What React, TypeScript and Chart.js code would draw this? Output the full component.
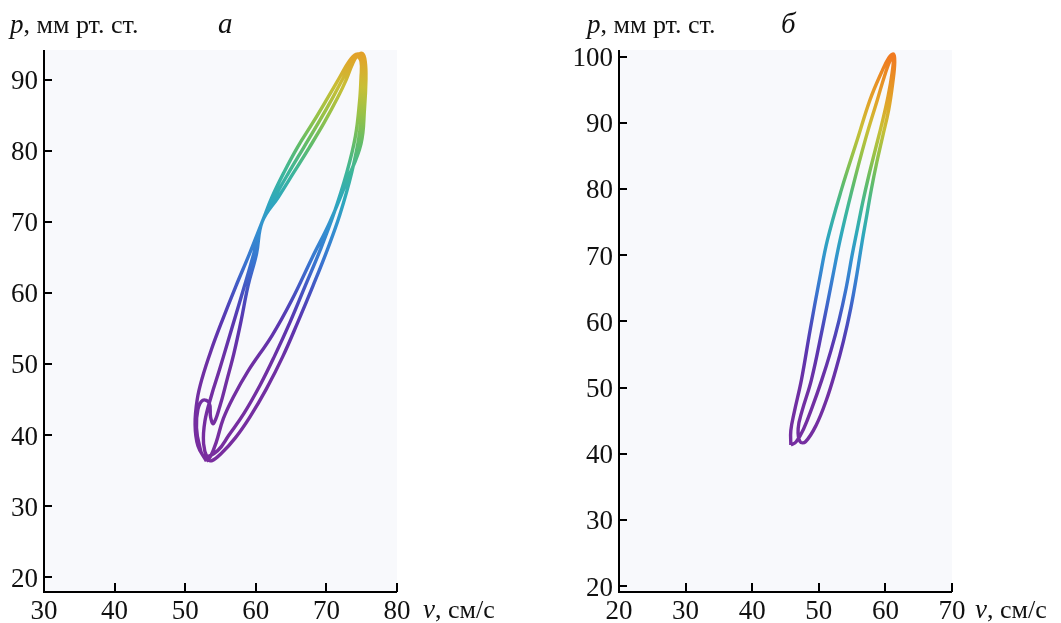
import { useEffect, useRef } from "react";
import { Chart, registerables } from "chart.js";

Chart.register(...registerables);

type Pt = [number, number];

// Panel а: three pressure–velocity loops (v, p)
const loopA1: Pt[] = [
  [53.0, 36.3], [51.8, 38.5], [51.4, 41.5], [51.7, 45], [52.4, 48], [53.7, 52], [55.2, 56], [57.2, 61],
  [59.1, 65.5], [60.9, 70], [62.3, 73.5], [64.0, 77], [65.9, 80.5], [68.1, 84], [70.2, 87.5], [71.9, 90.4],
  [73.2, 92.6], [74.2, 93.6], [75.0, 93.4], [75.3, 91.6], [75.2, 88], [74.7, 82.5], [73.6, 77], [71.9, 71],
  [70.1, 66], [68.1, 61], [66.0, 56], [63.8, 51], [61.5, 46.5], [59.2, 42.6], [57.1, 39.6], [55.1, 37.4],
  [53.8, 36.4],
];
const loopA2: Pt[] = [
  [53.2, 36.6], [52.6, 38.8], [52.8, 42], [53.7, 45.5], [54.8, 49], [56.0, 53], [57.2, 57], [58.4, 61],
  [59.7, 65.5], [60.9, 70], [62.7, 73.5], [64.7, 77], [66.8, 80.5], [68.9, 84], [70.9, 87.5], [72.4, 90.3],
  [73.5, 92.4], [74.3, 93.3], [74.9, 92.6], [74.9, 90.3], [74.7, 87], [74.1, 82], [72.9, 77], [71.0, 71],
  [69.1, 66], [67.0, 61], [64.9, 56], [62.6, 51], [60.6, 47], [58.3, 43], [56.2, 40], [54.6, 37.8],
];
const loopA3: Pt[] = [
  [52.7, 37.0], [52.0, 38.6], [51.6, 41], [51.8, 43.6], [52.5, 44.9], [53.4, 44.5], [53.6, 42.5], [54.0, 41.6],
  [54.9, 44], [55.9, 47.7], [56.9, 51.5], [57.9, 56], [58.9, 61], [60.1, 65.5], [60.9, 70], [63.2, 73.5],
  [65.4, 77], [67.6, 80.5], [69.7, 84], [71.6, 87.5], [72.8, 90], [73.6, 92], [74.3, 93.3], [75.1, 93.7],
  [75.5, 92.6], [75.6, 90], [75.4, 86], [74.9, 81], [73.0, 76], [70.5, 70], [68.0, 65], [65.1, 59],
  [62.3, 54], [58.9, 49], [56.9, 45.5], [55.4, 42.3], [54.4, 39], [53.6, 37.0], [53.0, 36.3],
];

// Panel б: two loops (v, p)
const loopB1: Pt[] = [
  [45.8, 41.3], [45.8, 43.5], [46.3, 46.2], [47.4, 51.2], [48.7, 58.7], [50.1, 66.3], [51.3, 72.3], [53.4, 79.9],
  [55.8, 87.5], [57.7, 93.5], [59.4, 97.6], [60.5, 99.8], [61.2, 100.4], [61.4, 99.2], [61.1, 96], [60.5, 92],
  [59.6, 88], [58.7, 84], [57.9, 80], [57.2, 76], [56.5, 72], [55.7, 67], [54.8, 62], [53.7, 57],
  [52.5, 52.5], [51.1, 48], [49.6, 44.3], [48.0, 41.8],
];
const loopB2: Pt[] = [
  [47.2, 41.8], [46.9, 43.8], [47.5, 46.5], [48.9, 51.2], [50.5, 58.7], [52.0, 66.3], [53.2, 72.3], [55.0, 79.9],
  [57.0, 87.5], [58.8, 93.5], [60.0, 97.5], [60.8, 99.6], [61.2, 99.9], [61.0, 97.5], [60.4, 94], [59.5, 90],
  [58.5, 86], [57.5, 82], [56.6, 78], [55.8, 74], [55.0, 70], [54.1, 65], [53.0, 60], [51.8, 55.5],
  [50.4, 51], [49.0, 47], [47.7, 43.7], [46.6, 41.8], [45.8, 41.3],
];

const xTicksA = [30, 40, 50, 60, 70, 80];
const yTicksA = [20, 30, 40, 50, 60, 70, 80, 90];
const xTicksB = [20, 30, 40, 50, 60, 70];
const yTicksB = [20, 30, 40, 50, 60, 70, 80, 90, 100];

// pressure -> colour
const colorStops: [number, string][] = [
  [35, "#7b2d9e"], [50, "#6e2fa3"], [56, "#5a36b0"], [60, "#4650c0"], [64, "#3a72cf"],
  [69, "#3390d0"], [73, "#2ea8bc"], [77, "#3db69a"], [81, "#62bc68"], [85, "#96c248"],
  [89, "#c8bf36"], [93, "#e0a52a"], [100, "#f07a20"],
];

const SERIF = "'Liberation Serif', 'DejaVu Serif', serif";
const TICK_FONT = `27px ${SERIF}`;

function lineGradient(chart: any) {
  const { ctx, chartArea, scales } = chart;
  if (!chartArea || !scales.y) return "#6e2fa3";
  const y = scales.y;
  const pBot = 35, pTop = 100;
  const g = ctx.createLinearGradient(0, y.getPixelForValue(pBot), 0, y.getPixelForValue(pTop));
  colorStops.forEach(([p, c]) => g.addColorStop((p - pBot) / (pTop - pBot), c));
  return g;
}

interface PanelCfg {
  left: number;
  width: number;
  padLeft: number;
  padRight: number;
  yWidth: number;
  xMin: number; xMax: number; yMin: number; yMax: number;
  xTicks: number[]; yTicks: number[];
  loops: Pt[][];
  letter: string; letterX: number;
  yTitleX: number; xTitleX: number;
}

const H = 623;

const panels: PanelCfg[] = [
  {
    left: 0, width: 530, padLeft: 0, padRight: 133, yWidth: 44,
    xMin: 30, xMax: 80, yMin: 17.9, yMax: 94.2,
    xTicks: xTicksA, yTicks: yTicksA,
    loops: [loopA1, loopA2, loopA3],
    letter: "а", letterX: 218, yTitleX: 10, xTitleX: 423,
  },
  {
    left: 530, width: 531, padLeft: 45, padRight: 109, yWidth: 44,
    xMin: 20, xMax: 70, yMin: 19.1, yMax: 101,
    xTicks: xTicksB, yTicks: yTicksB,
    loops: [loopB1, loopB2],
    letter: "б", letterX: 251, yTitleX: 57, xTitleX: 445,
  },
];

function makeDecor(cfg: PanelCfg) {
  return {
    id: "decor",
    beforeDatasetsDraw(chart: any) {
      const { ctx, chartArea: a } = chart;
      ctx.save();
      ctx.fillStyle = "#f8f9fc";
      ctx.fillRect(a.left, a.top, a.right - a.left, a.bottom - a.top);
      ctx.restore();
    },
    afterDraw(chart: any) {
      const { ctx, chartArea: a, scales } = chart;
      const xs = scales.x, ys = scales.y;
      ctx.save();
      ctx.strokeStyle = "#000";
      ctx.lineWidth = 2;
      ctx.beginPath();
      ctx.moveTo(a.left, a.top);
      ctx.lineTo(a.left, a.bottom);
      ctx.lineTo(a.right, a.bottom);
      ctx.stroke();
      ctx.beginPath();
      cfg.xTicks.forEach((v) => {
        if (v === cfg.xMin) return;
        const px = Math.round(xs.getPixelForValue(v));
        ctx.moveTo(px, a.bottom);
        ctx.lineTo(px, a.bottom - 9);
      });
      cfg.yTicks.forEach((v) => {
        const py = Math.round(ys.getPixelForValue(v));
        ctx.moveTo(a.left, py);
        ctx.lineTo(a.left + 8, py);
      });
      ctx.stroke();

      ctx.fillStyle = "#111";
      ctx.font = TICK_FONT;
      ctx.textBaseline = "alphabetic";
      ctx.textAlign = "center";
      cfg.xTicks.forEach((v) => {
        ctx.fillText(String(v), xs.getPixelForValue(v), 619);
      });
      ctx.textAlign = "right";
      cfg.yTicks.forEach((v) => {
        ctx.fillText(String(v), a.left - 6, ys.getPixelForValue(v) + 9.5);
      });

      // axis titles
      ctx.textAlign = "left";
      ctx.font = `italic 27px ${SERIF}`;
      ctx.fillText("p", cfg.yTitleX, 33);
      let w = ctx.measureText("p").width;
      ctx.font = `26px ${SERIF}`;
      ctx.fillText(", мм рт. ст.", cfg.yTitleX + w, 33);

      ctx.font = `italic 27px ${SERIF}`;
      ctx.fillText("v", cfg.xTitleX, 618);
      w = ctx.measureText("v").width;
      ctx.font = `26px ${SERIF}`;
      ctx.fillText(", см/с", cfg.xTitleX + w, 618);

      ctx.font = `italic 29px ${SERIF}`;
      ctx.fillText(cfg.letter, cfg.letterX, 33);
      ctx.restore();
    },
  };
}

function Panel({ cfg }: { cfg: PanelCfg }) {
  const ref = useRef<HTMLCanvasElement | null>(null);
  useEffect(() => {
    if (!ref.current) return;
    const pts: { x: number; y: number }[] = [];
    cfg.loops.forEach((loop) => loop.forEach(([x, y]) => pts.push({ x, y })));
    pts.push({ x: cfg.loops[0][0][0], y: cfg.loops[0][0][1] });
    const chart = new Chart(ref.current, {
      type: "line",
      data: {
        datasets: [
          {
            data: pts,
            borderColor: (c: any) => lineGradient(c.chart),
            borderWidth: 3.4,
            pointRadius: 0,
            tension: 0.4,
            fill: false,
          },
        ],
      },
      options: {
        animation: false,
        responsive: false,
        maintainAspectRatio: false,
        devicePixelRatio: 1,
        layout: { padding: { left: cfg.padLeft, right: cfg.padRight, top: 50, bottom: 0 } },
        plugins: { legend: { display: false }, tooltip: { enabled: false } },
        scales: {
          x: {
            type: "linear",
            min: cfg.xMin,
            max: cfg.xMax,
            grid: { display: false, drawTicks: false },
            border: { display: false },
            ticks: { display: false },
            afterFit: (s: any) => { s.height = 31; },
          },
          y: {
            type: "linear",
            min: cfg.yMin,
            max: cfg.yMax,
            grid: { display: false, drawTicks: false },
            border: { display: false },
            ticks: { display: false },
            afterFit: (s: any) => { s.width = cfg.yWidth; },
          },
        },
      } as any,
      plugins: [makeDecor(cfg)],
    });
    return () => chart.destroy();
  }, [cfg]);
  return (
    <canvas
      ref={ref}
      width={cfg.width}
      height={H}
      style={{ position: "absolute", left: cfg.left, top: 0, width: cfg.width, height: H }}
    />
  );
}

export default function App() {
  return (
    <div style={{ position: "fixed", left: 0, top: 0, width: 1061, height: H, background: "#fff" }}>
      {panels.map((p, i) => (
        <Panel key={i} cfg={p} />
      ))}
    </div>
  );
}
